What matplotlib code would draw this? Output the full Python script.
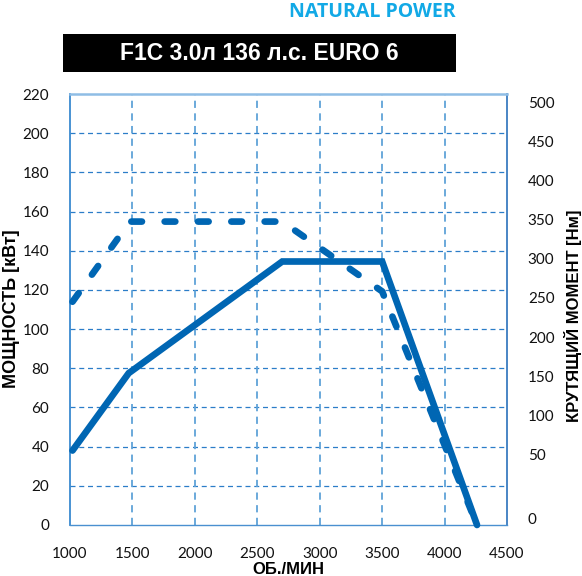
import matplotlib
matplotlib.use("Agg")
import matplotlib.pyplot as plt
from matplotlib.patches import Rectangle
from matplotlib.ticker import FixedLocator, FixedFormatter
from matplotlib.transforms import ScaledTranslation

# данные
rpm_power = [1020, 1470, 2700, 3500, 4260]
power_kw = [38, 77.5, 134.5, 134.5, 0]

rpm_torque = [1020, 1480, 2700, 3500, 4260]
torque_nm = [259, 352, 352, 271, 0]

x_ticks = [1000, 1500, 2000, 2500, 3000, 3500, 4000, 4500]
y_ticks_kw = list(range(0, 221, 20))
# подписи правой оси в оригинале стоят на линиях сетки левой оси (одна пропущена)
torque_tick_kw = [0, 40, 60, 80, 100, 120, 140, 160, 180, 200, 220]
torque_tick_labels = ["0", "50", "100", "150", "200", "250", "300", "350", "400", "450", "500"]

title = "F1C 3.0л 136 л.с. EURO 6"
brand = "NATURAL POWER"

blue = "#0066b3"
grid_h = "#2b7dc8"
grid_v = "#5fa2d8"

fig = plt.figure(figsize=(5.82, 5.76), dpi=100)
ax = fig.add_axes([70/582, 51/576, 437/582, 431/576])
ax2 = ax.twinx()

ax.set_xlim(1000, 4500)
ax.set_ylim(0, 220)
ax2.set_ylim(0, 500)

ax.plot(rpm_power, power_kw, color=blue, lw=4.8, solid_capstyle="round",
        solid_joinstyle="miter", clip_on=False, zorder=5)
ax2.plot(rpm_torque, torque_nm, color=blue, lw=4.8, linestyle=(0, (1.6, 3.4)),
         dash_capstyle="round", dash_joinstyle="round", clip_on=False, zorder=5)

ax.set_xticks(x_ticks)
ax.set_yticks(y_ticks_kw)
for v in y_ticks_kw[1:-1]:
    ax.axhline(v, color=grid_h, lw=0.9, linestyle=(0, (4, 3)), zorder=1)
for v in x_ticks[1:-1]:
    ax.axvline(v, color=grid_v, lw=1.3, linestyle=(0, (4, 3)), zorder=1)

ax2.yaxis.set_major_locator(FixedLocator([v * 500 / 220 for v in torque_tick_kw]))
ax2.yaxis.set_major_formatter(FixedFormatter(torque_tick_labels))

for a in (ax, ax2):
    a.tick_params(length=0)
    a.set_facecolor("none")
ax.tick_params(axis="y", pad=15)
ax.tick_params(axis="x", pad=16)
ax2.tick_params(axis="y", pad=15)
for lbl in ax.get_xticklabels() + ax.get_yticklabels() + ax2.get_yticklabels():
    lbl.set_fontfamily("Lato")
    lbl.set_fontsize(11)
    lbl.set_color("#111111")

# в оригинале подписи справа чуть ниже линий сетки
for tick in ax2.yaxis.get_major_ticks():
    dy = 6 if tick.get_loc() == 0 else -8
    tick.label2.set_transform(tick.label2.get_transform()
                              + ScaledTranslation(0, dy / 100, fig.dpi_scale_trans))

ax.spines["top"].set_color("#8fbde5")
ax.spines["top"].set_linewidth(1.8)
ax.spines["left"].set_color("#3a8ad0")
ax.spines["left"].set_linewidth(1.3)
ax.spines["bottom"].set_color("#4a90d0")
ax.spines["bottom"].set_linewidth(1.0)
ax.spines["right"].set_color("#3a7cc0")
ax.spines["right"].set_linewidth(1.3)
for s in ax2.spines.values():
    s.set_visible(False)

lab_font = dict(family="Liberation Sans", weight="bold", color="black")
fig.text(12/582, 1 - 309/576, "МОЩНОСТЬ [кВт]", rotation=90, ha="center", va="center",
         size=13, **lab_font)
fig.text(573/582, 1 - 316/576, "КРУТЯЩИЙ МОМЕНТ [Нм]", rotation=90, ha="center", va="center",
         size=12, **lab_font)
fig.text(288/582, 1 - 574/576, "ОБ./МИН", ha="center", va="baseline", size=12, **lab_font)

fig.patches.append(Rectangle((63/582, 1 - 72/576), 393/582, 38/576,
                             transform=fig.transFigure, facecolor="black", edgecolor="none"))
fig.text(259/582, 1 - 53/576, title, ha="center", va="center", color="white",
         family="Liberation Sans", weight="bold", size=16.5)
fig.text(456/582, 1 - 17/576, brand, ha="right", va="baseline", color="#12a9e6",
         family="Open Sans", weight="bold", size=14)

fig.savefig("out.png", dpi=100)
